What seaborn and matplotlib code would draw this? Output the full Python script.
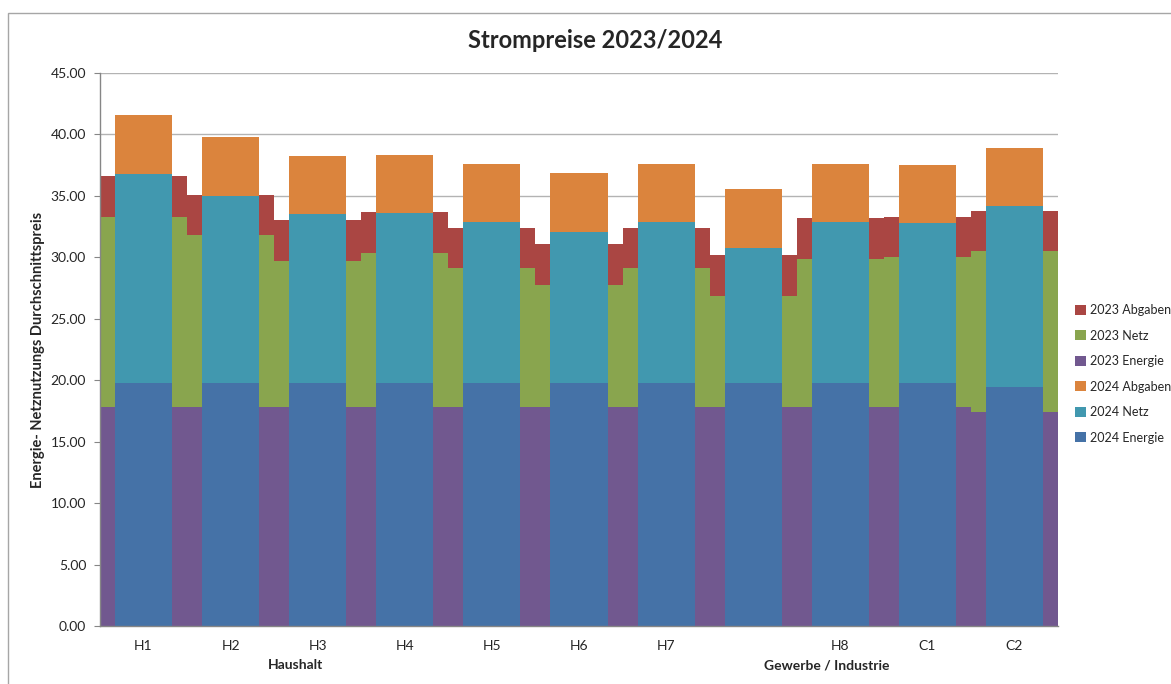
import numpy as np
import pandas as pd
import matplotlib
matplotlib.use("Agg")
import matplotlib.pyplot as plt
from matplotlib.patches import Patch, Rectangle
import matplotlib.transforms as mtransforms
import seaborn as sns

# categories (one unlabeled slot between H7 and H8)
categories = ["H1", "H2", "H3", "H4", "H5", "H6", "H7", "", "H8", "C1", "C2"]

# 2023 components (drawn as stepped area)
energie_2023 = [17.84, 17.84, 17.84, 17.84, 17.84, 17.84, 17.84, 17.84, 17.84, 17.84, 17.43]
netz_2023 = [15.43, 13.94, 11.88, 12.50, 11.26, 9.91, 11.26, 9.03, 12.04, 12.15, 13.07]
abgaben_2023 = [3.31, 3.31, 3.33, 3.31, 3.30, 3.30, 3.30, 3.28, 3.31, 3.31, 3.30]

# 2024 components (drawn as stacked columns)
energie_2024 = [19.76, 19.76, 19.76, 19.76, 19.76, 19.76, 19.76, 19.76, 19.76, 19.76, 19.44]
netz_2024 = [17.04, 15.20, 13.78, 13.81, 13.13, 12.32, 13.10, 11.01, 13.10, 13.02, 14.75]
abgaben_2024 = [4.75, 4.80, 4.72, 4.72, 4.69, 4.82, 4.70, 4.78, 4.70, 4.70, 4.69]

groups = ["Haushalt", "Gewerbe / Industrie"]
group_pos = [1.74, 7.84]

colors = {
    "2023 Abgaben": "#AA4643",
    "2023 Netz": "#89A54E",
    "2023 Energie": "#71588F",
    "2024 Abgaben": "#DB843D",
    "2024 Netz": "#4198AF",
    "2024 Energie": "#4572A7",
}

sns.set_style("white")
plt.rcParams["font.family"] = ["Lato", "DejaVu Sans"]

fig = plt.figure(figsize=(11.71, 6.84), dpi=100)
ax = fig.add_axes([100 / 1171, 1 - 626 / 684, 958 / 1171, 553 / 684])

# outer chart border
fig.patches.append(Rectangle((8 / 1171, -0.05), 1.2, 1 - 13 / 684 + 0.05,
                             transform=fig.transFigure, fill=False,
                             edgecolor="#A6A6A6", linewidth=1.0))

# 2023 stepped area
n = len(categories)
x = np.arange(n)
xs = np.concatenate([[-0.5], x, [n - 0.5]])

def ext(v):
    v = np.asarray(v, dtype=float)
    return np.concatenate([[v[0]], v, [v[-1]]])

e23 = np.array(energie_2023)
n23 = e23 + np.array(netz_2023)
a23 = n23 + np.array(abgaben_2023)
ax.fill_between(xs, 0, ext(e23), step="mid", color=colors["2023 Energie"], lw=0, zorder=1)
ax.fill_between(xs, ext(e23), ext(n23), step="mid", color=colors["2023 Netz"], lw=0, zorder=1)
ax.fill_between(xs, ext(n23), ext(a23), step="mid", color=colors["2023 Abgaben"], lw=0, zorder=1)

# 2024 stacked columns
df = pd.DataFrame({"cat": [str(i) for i in range(n)],
                   "Energie": energie_2024, "Netz": netz_2024, "Abgaben": abgaben_2024})
df["top_netz"] = df["Energie"] + df["Netz"]
df["top_abg"] = df["top_netz"] + df["Abgaben"]
bw = 0.655
sns.barplot(data=df, x="cat", y="top_abg", color=colors["2024 Abgaben"], width=bw,
            saturation=1, ax=ax, zorder=2, linewidth=0)
sns.barplot(data=df, x="cat", y="top_netz", color=colors["2024 Netz"], width=bw,
            saturation=1, ax=ax, zorder=2, linewidth=0)
sns.barplot(data=df, x="cat", y="Energie", color=colors["2024 Energie"], width=bw,
            saturation=1, ax=ax, zorder=2, linewidth=0)

ax.set_xlim(-0.5, n - 0.5)
ax.set_ylim(0, 45)
ax.set_yticks(np.arange(0, 46, 5))
ax.set_yticklabels([f"{v:.2f}" for v in np.arange(0, 46, 5)], fontsize=10)
ax.set_xticks(x)
ax.set_xticklabels(categories, fontsize=10)
ax.tick_params(axis="x", length=0, pad=10)
ax.tick_params(axis="y", length=4, color="#868686", direction="out", left=True, pad=6)
ax.set_xlabel("")
ax.set_ylabel("Energie- Netznutzungs Durchschnittspreis", fontsize=10.5,
              fontweight="bold", labelpad=4)

ax.yaxis.grid(True, color="#B3B3B3", linewidth=1.0)
ax.set_axisbelow(True)
for side in ["top", "right"]:
    ax.spines[side].set_visible(False)
for side in ["left", "bottom"]:
    ax.spines[side].set_color("#868686")
    ax.spines[side].set_linewidth(1.0)

trans = mtransforms.blended_transform_factory(ax.transData, fig.transFigure)
for g, p in zip(groups, group_pos):
    fig.text(p, 1 - 665 / 684, g, transform=trans, ha="center", va="center",
             fontsize=10, fontweight="bold")

fig.text(595 / 1171, 1 - 40 / 684, "Strompreise 2023/2024", ha="center", va="center",
         fontsize=17, fontweight="bold")

order = ["2023 Abgaben", "2023 Netz", "2023 Energie", "2024 Abgaben", "2024 Netz", "2024 Energie"]
handles = [Patch(facecolor=colors[k], edgecolor="none", label=k) for k in order]
fig.legend(handles=handles, loc="center left", bbox_to_anchor=(1075 / 1171, 1 - 374 / 684),
           frameon=False, fontsize=9, handlelength=0.85, handleheight=0.85,
           handletextpad=0.35, labelspacing=1.08, borderpad=0, borderaxespad=0)

fig.savefig("out.png", dpi=100)
